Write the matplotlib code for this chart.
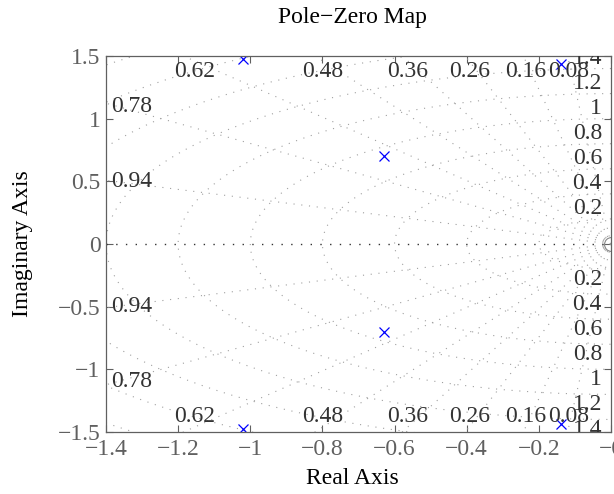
import matplotlib
matplotlib.use("Agg")
import matplotlib.pyplot as plt
from matplotlib.ticker import FuncFormatter
import numpy as np

# poles (conjugate pairs)
pole_re = [-1.02, -0.63, -0.14]
pole_im = [1.48, 0.70, 1.44]

# grid values of the pole-zero map
zetas = [0.08, 0.16, 0.26, 0.36, 0.48, 0.62, 0.78, 0.94]
wns = [0.2, 0.4, 0.6, 0.8, 1.0, 1.2, 1.4, 1.6, 1.8, 2.0]
wn_labels = ["0.2", "0.4", "0.6", "0.8", "1", "1.2", "1.4"]

xlim = (-1.4, 0)
ylim = (-1.5, 1.5)

plt.rcParams['font.family'] = ['Liberation Serif', 'DejaVu Serif']
plt.rcParams['font.size'] = 17

fig = plt.figure(figsize=(6.14, 4.94), dpi=100)
ax = fig.add_axes([106/614, 62/494, 505/614, 376/494])

grid_col = "#a0a0a0"
txt_col = "#333333"

# damping lines
for z in zetas:
    s = np.sqrt(1 - z**2) / z
    r = 5.0
    xs = [0, -r * z, ]
    for sign in (1, -1):
        ax.plot([0, -r * z], [0, sign * r * np.sqrt(1 - z**2)], color=grid_col,
                lw=0.8, ls=(0, (1, 6)))
    # labels near the axes border
    x_top = -1.46 / s
    if x_top > xlim[0]:
        ax.text(x_top, 1.46, "%g" % z, ha="center", va="top", color=txt_col, clip_on=True)
        ax.text(x_top, -1.46, "%g" % z, ha="center", va="bottom", color=txt_col, clip_on=True)
    else:
        y_left = 1.37 * s
        ax.text(-1.385, y_left, "%g" % z, ha="left", va="center", color=txt_col, clip_on=True)
        ax.text(-1.385, -y_left, "%g" % z, ha="left", va="center", color=txt_col, clip_on=True)

# zeta = 1 line
ax.plot([-5, 0], [0, 0], color="#333333", lw=1.0, ls=(0, (1, 6)))

# natural frequency arcs
th = np.linspace(np.pi / 2, 3 * np.pi / 2, 400)
for w in wns:
    ax.plot(w * np.cos(th), w * np.sin(th), color=grid_col, lw=0.8, ls=(0, (1, 6)))
for w, lab in zip(wns, wn_labels):
    ax.text(-0.025, w, lab, ha="right", va="bottom", color=txt_col, clip_on=True)
    ax.text(-0.025, -w, lab, ha="right", va="top", color=txt_col, clip_on=True)

# small arc at the origin
ax.plot([0], [0], marker="o", ms=10, mfc="none", mec="#888888", mew=0.8, ls="none")

# poles
px = pole_re + pole_re
py = pole_im + [-v for v in pole_im]
ax.plot(px, py, ls="none", marker="x", color="blue", ms=7, mew=0.9)

ax.set_xlim(xlim)
ax.set_ylim(ylim)
ax.set_xticks(np.arange(-1.4, 0.01, 0.2))
ax.set_yticks(np.arange(-1.5, 1.51, 0.5))
fmt = FuncFormatter(lambda v, p: ("%g" % round(v, 2)).replace("-", "\u2212"))
ax.xaxis.set_major_formatter(fmt)
ax.yaxis.set_major_formatter(fmt)
ax.tick_params(direction="in", top=True, right=True, length=5, width=0.8,
               colors="#606060", labelsize=17)
ax.tick_params(axis="x", pad=5)
ax.tick_params(axis="y", pad=4)
for sp in ax.spines.values():
    sp.set_color("#606060")
    sp.set_linewidth(0.9)

fig.text(352/614, 1 - 18/494, "Pole\u2212Zero Map", ha="center", va="center", color="black")
fig.text(352/614, 1 - 478/494, "Real Axis", ha="center", va="center", color="black")
fig.text(23/614, 1 - 244/494, "Imaginary Axis", ha="center", va="center", rotation=90, color="black")

fig.savefig("out.png", dpi=100)
